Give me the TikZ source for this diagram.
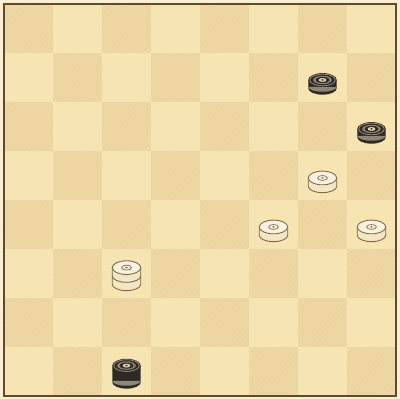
\documentclass[tikz,border=0pt]{standalone}
\usepackage{xcolor}
\definecolor{board-light}{HTML}{F6E4B2}
\definecolor{board-dark}{HTML}{ECD5A1}
\definecolor{board-edge}{HTML}{5E4A32}
\definecolor{man-dark}{HTML}{2E2924}
\definecolor{man-grey}{HTML}{8E8676}
\definecolor{man-light}{HTML}{F3E6C2}
\definecolor{man-line}{HTML}{7A6748}
\usetikzlibrary{patterns}

\begin{document}
\begin{tikzpicture}[
  darksq/.style={fill=board-dark},
  hatch/.style={pattern=north east lines, pattern color=board-light},
  pics/darkman/.style={code={
    % body, then the face of the top layer
    \fill[man-dark] (-0.29,0) -- (-0.29,#1) -- (0.29,#1) -- (0.29,0)
      arc[start angle=0, end angle=-180, x radius=0.29, y radius=0.13] -- cycle;
    \fill[man-grey] (-0.29,0.03) -- (0.29,0.03)
      arc[start angle=0, end angle=-180, x radius=0.29, y radius=0.1] -- cycle;
    \fill[man-dark] (0,#1) ellipse[x radius=0.29, y radius=0.14];
    \draw[man-grey, line width=0.5pt] (0,#1) ellipse[x radius=0.26, y radius=0.12];
    \fill[man-grey] (0,#1) ellipse[x radius=0.19, y radius=0.085];
    \fill[man-dark] (0,#1) ellipse[x radius=0.14, y radius=0.062];
    \fill[man-light!80!man-grey] (0,#1) ellipse[x radius=0.08, y radius=0.04];
    \fill[man-dark] (0,#1) ellipse[x radius=0.03, y radius=0.015];
  }},
  pics/lightman/.style={code={
    \filldraw[fill=man-light, draw=man-line, line width=0.5pt]
      (-0.29,0) -- (-0.29,#1) -- (0.29,#1) -- (0.29,0)
      arc[start angle=0, end angle=-180, x radius=0.29, y radius=0.13] -- cycle;
    \filldraw[fill=man-light!50!white, draw=man-line, line width=0.5pt]
      (0,#1) ellipse[x radius=0.29, y radius=0.14];
    \draw[man-line, line width=0.4pt] (0,#1) ellipse[x radius=0.1, y radius=0.05];
    \fill[man-line] (0,#1) ellipse[x radius=0.03, y radius=0.015];
  }}]

  \useasboundingbox (-0.082,-0.061) rectangle (8.082,8.082);
  \fill[board-light!60!white] (-0.082,-0.061) rectangle (8.082,8.082);

  % squares
  \fill[board-light] (0,0) rectangle (8,8);
  \foreach \r in {0,...,7}
    \foreach \c in {0,...,7}{
      \pgfmathtruncatemacro{\odd}{mod(\r+\c,2)}
      \ifnum\odd=0
        \fill[darksq] (\c,7-\r) rectangle ++(1,1);
        \fill[hatch, opacity=0.35] (\c,7-\r) rectangle ++(1,1);
      \fi
    }
  \draw[board-edge, line width=0.9pt] (0,0) rectangle (8,8);

  % men (col, row from top)
  \foreach \c/\r in {6/1, 7/2}
    \pic at (\c+0.5, 7.28-\r) {darkman=0.17};
  \pic at (2.5, 0.28) {darkman=0.34};
  \foreach \c/\r in {6/3, 5/4, 7/4}
    \pic at (\c+0.5, 7.28-\r) {lightman=0.17};
  \pic at (2.5, 2.28) {lightman=0.34};
  \draw[man-line, line width=0.5pt] (2.21,2.45)
    arc[start angle=180, end angle=360, x radius=0.29, y radius=0.13];

\end{tikzpicture}
\end{document}
